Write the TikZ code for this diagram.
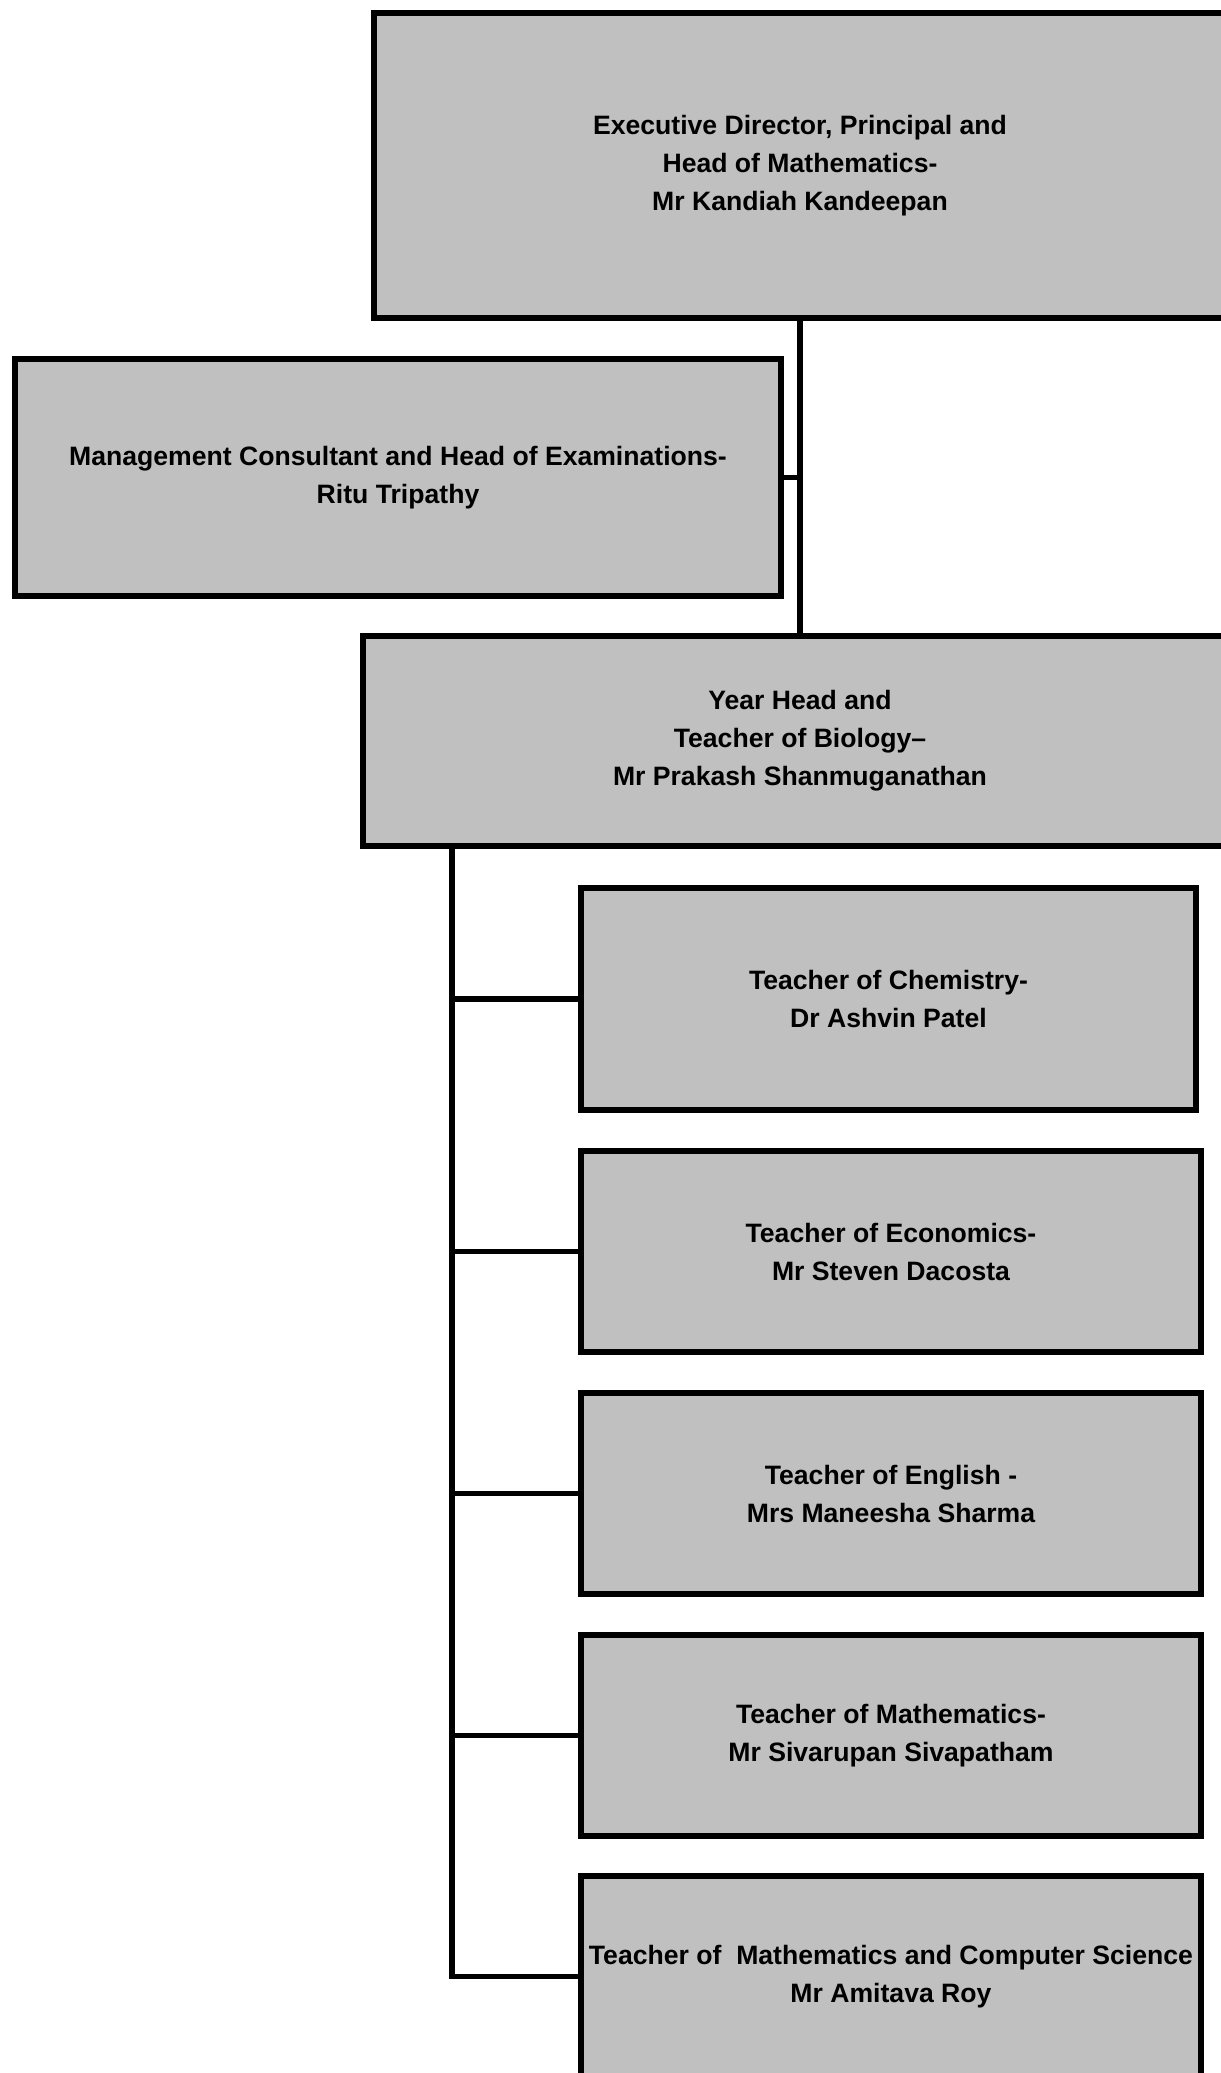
\documentclass[tikz,border=0pt]{standalone}
\usepackage{xcolor}
\usepackage{fontspec}
\setmainfont{Liberation Sans}
\usepackage{tikz}
\usetikzlibrary{shapes,arrows,positioning}
\definecolor{boxgrey}{HTML}{C0C0C0}

\begin{document}
\begin{tikzpicture}[x=0.5pt, y=-0.5pt, line width=2.8pt, node distance=17.7pt,
    post/.style={rectangle, draw, fill=boxgrey, align=center, inner sep=0pt,
        font=\fontsize{13.3}{19}\selectfont\bfseries},
    teacher/.style={post, minimum width=310pt, minimum height=100.5pt}]
    \useasboundingbox (0,0) rectangle (1221,2073);

    \node (director) [post, minimum width=426pt, minimum height=152.5pt] at (800,165.5) {Executive Director, Principal and\\Head of Mathematics-\\Mr Kandiah Kandeepan};
    \node (consultant) [post, minimum width=383pt, minimum height=118.5pt] at (398,477.5) {Management Consultant and Head of Examinations-\\Ritu Tripathy};
    \node (yearhead) [post, minimum width=437pt, minimum height=105pt] at (800,741) {Year Head and\\Teacher of Biology–\\Mr Prakash Shanmuganathan};

    \node (chem) [teacher, minimum width=307.5pt, minimum height=111pt] at (888.5,999) {Teacher of Chemistry-\\Dr Ashvin Patel};
    \node (econ) [teacher, below=of chem.south west, anchor=north west] {Teacher of Economics-\\Mr Steven Dacosta};
    \node (eng) [teacher, below=of econ] {Teacher of English -\\Mrs Maneesha Sharma};
    \node (maths) [teacher, below=of eng] {Teacher of Mathematics-\\Mr Sivarupan Sivapatham};
    \node (comp) [teacher, below=17.2pt of maths] {Teacher of\ \ Mathematics and Computer Science\\Mr Amitava Roy};

    % connectors
    \draw (director.south) -- (yearhead.north);
    \draw (consultant.east) -- (consultant.east -| director.south);
    \coordinate (spine) at (452,846);
    \foreach \n in {chem,econ,eng,maths,comp}
        \draw (spine) |- (\n.west);
\end{tikzpicture}
\end{document}
